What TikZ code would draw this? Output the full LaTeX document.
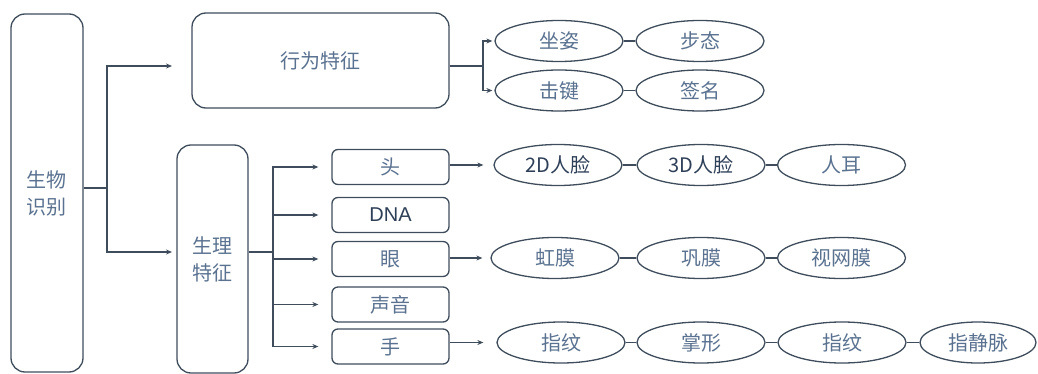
\documentclass[tikz,border=0pt]{standalone}
\usepackage{fontspec}
\setmainfont{Liberation Sans}
\newfontfamily\cjk{Noto Sans CJK SC}
\usetikzlibrary{shapes.geometric,arrows.meta}
\definecolor{ln}{HTML}{3E4C5C}
\definecolor{tx}{HTML}{5A7290}
\definecolor{tk}{HTML}{2E3F58}
\tikzset{
 base/.style={draw=ln, line width=1.3pt, text=tx, font=\cjk\fontsize{20}{27}\selectfont, inner sep=0pt, align=center},
 bigbox/.style={base, rounded corners=14pt},
 smallbox/.style={base, rounded corners=6pt, minimum width=117pt, minimum height=35pt},
 oval/.style={base, ellipse, minimum width=128pt, minimum height=41pt},
 conn/.style={draw=ln, line width=1.3pt},
 arr/.style={conn, -{Stealth[length=6pt,width=5pt]}},
 dark/.style={text=tk}
}
\begin{document}
\begin{tikzpicture}[x=1pt,y=-1pt]
\useasboundingbox (0,0) rectangle (1038,374);
% main boxes
\node[bigbox, minimum width=72pt, minimum height=358pt] (bio) at (47,193) {生物\\识别};
\node[bigbox, minimum width=257pt, minimum height=95pt] (beh) at (320.5,60.5) {行为特征};
\node[bigbox, minimum width=71pt, minimum height=228pt] (phy) at (212.5,259) {生理\\特征};
% small boxes
\node[smallbox] (tou) at (390.5,167) {头};
\node[smallbox, dark, font=\fontsize{20}{24}\selectfont] (dna) at (390.5,215) {DNA};
\node[smallbox] (yan) at (390.5,259) {眼};
\node[smallbox] (sy) at (390.5,304.5) {声音};
\node[smallbox] (shou) at (390.5,346.5) {手};
% ellipses
\node[oval] (zz) at (559,41) {坐姿};
\node[oval] (bt) at (700,41) {步态};
\node[oval] (jj) at (559,90.5) {击键};
\node[oval] (qm) at (700,90.5) {签名};
\node[oval, dark] (f2) at (558,165) {2D人脸};
\node[oval, dark] (f3) at (701,165) {3D人脸};
\node[oval] (er) at (841.5,165) {人耳};
\node[oval] (hm) at (555,258) {虹膜};
\node[oval] (gm) at (701,258) {巩膜};
\node[oval] (sw) at (841.5,258) {视网膜};
\node[oval] (zw1) at (561,342.5) {指纹};
\node[oval] (zx) at (701,342.5) {掌形};
\node[oval] (zw2) at (842,342.5) {指纹};
\node[oval, minimum width=116pt] (jm) at (978,342.5) {指静脉};
% junctions
\coordinate (j1) at (107,188);
\coordinate (a1) at (172,66);
\coordinate (a2) at (172,252);
\coordinate (j2) at (483,66);
\coordinate (j3) at (273,252);
% connectors from 生物识别
\draw[conn] (bio.east |- j1) -- (j1);
\draw[arr] (j1) |- (a1);
\draw[arr] (j1) |- (a2);
% 行为特征 bracket
\draw[conn] (beh.east |- j2) -- (j2);
\draw[arr, shorten >=2pt] (j2) |- (zz.west);
\draw[arr, shorten >=2pt] (j2) |- (jj.west);
% 生理特征 tree
\draw[conn] (phy.east |- j3) -- (j3);
\draw[arr, shorten >=13pt] (j3) |- (tou.west);
\draw[arr, shorten >=13pt] (j3) |- (dna.west);
\draw[arr, shorten >=13pt] (j3) |- (yan.west);
\draw[arr, shorten >=13pt] (j3) |- (sy.west);
\draw[arr, shorten >=13pt] (j3) |- (shou.west);
% boxes to ellipses
\draw[arr, shorten >=10pt] (tou.east |- f2.west) -- (f2.west);
\draw[arr, shorten >=8pt] (yan.east |- hm.west) -- (hm.west);
\draw[arr, shorten >=13pt] (shou.east |- zw1.west) -- (zw1.west);
% ellipse links
\draw[conn] (zz.east) -- (bt.west);
\draw[conn] (jj.east) -- (qm.west);
\draw[conn] (f2.east) -- (f3.west);
\draw[conn] (f3.east) -- (er.west);
\draw[conn] (hm.east) -- (gm.west);
\draw[conn] (gm.east) -- (sw.west);
\draw[conn] (zw1.east) -- (zx.west);
\draw[conn] (zx.east) -- (zw2.west);
\draw[conn] (zw2.east) -- (jm.west);
\end{tikzpicture}
\end{document}
